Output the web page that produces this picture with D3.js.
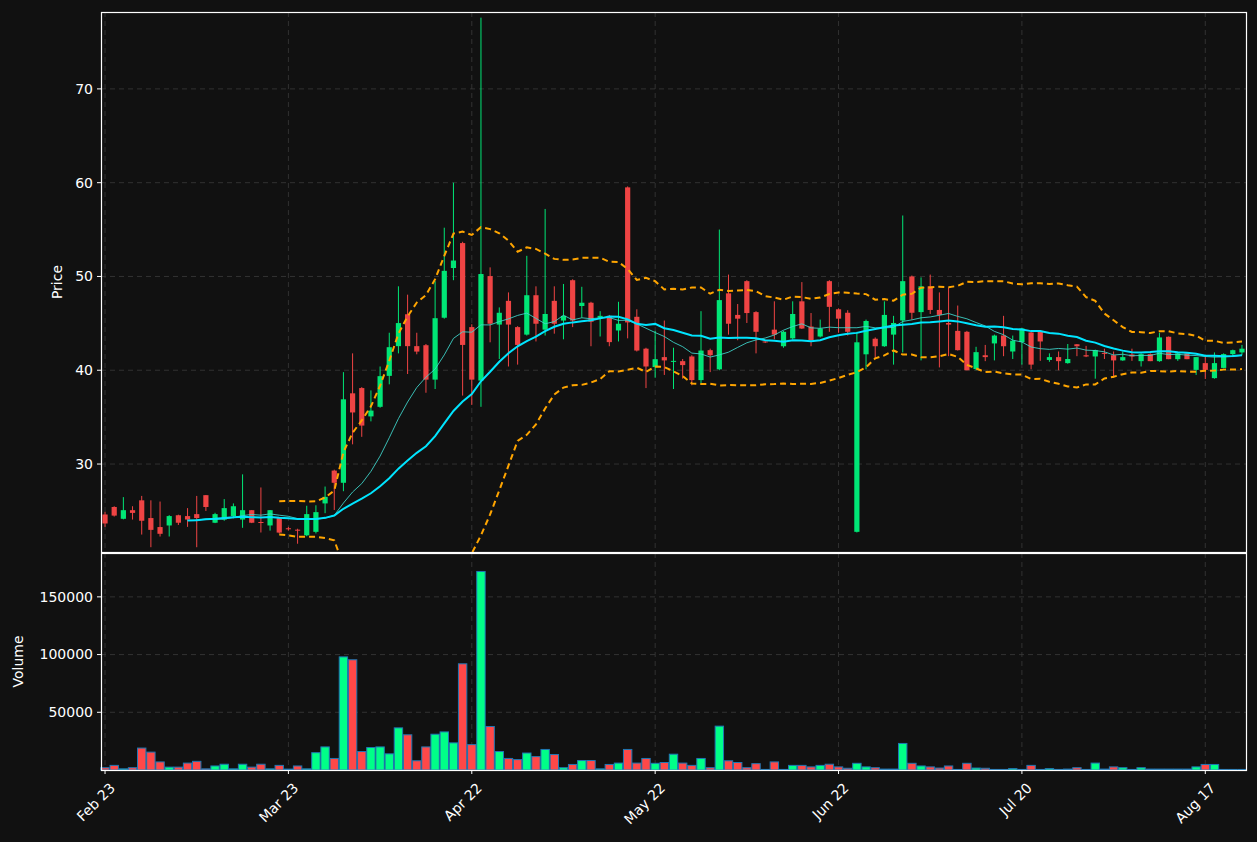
<!DOCTYPE html>
<html><head><meta charset="utf-8">
<script src="https://cdn.jsdelivr.net/npm/d3@7"></script>
<style>body{margin:0;background:#111111;}svg{display:block;font-family:"DejaVu Sans",sans-serif;}</style>
</head><body><svg id="c" width="1257" height="842"></svg>
<script>
const opens=[24.62,25.42,24.16,25.08,26.13,24.24,23.28,23.45,24.54,24.45,24.66,26.68,23.74,24.08,24.45,24.08,25.08,23.82,23.45,24.24,23.15,23.0,22.4,22.77,25.8,29.3,28.0,37.54,38.1,35.08,36.1,39.4,42.57,45.97,42.57,42.67,39.0,45.6,50.9,53.56,44.6,38.9,50.04,44.87,47.4,44.6,43.8,48.0,44.33,47.4,45.3,49.6,46.85,47.2,45.6,45.8,44.24,59.5,45.7,42.3,40.34,41.4,40.9,40.97,41.47,38.95,42.14,40.1,48.2,45.9,49.5,46.2,43.07,44.33,42.56,43.4,47.35,44.66,43.6,49.5,46.5,46.13,22.77,41.7,43.36,42.56,43.8,45.3,50.0,46.2,48.95,46.43,45.04,44.2,44.1,40.13,41.6,42.86,43.7,42.0,43.0,44.03,44.1,41.1,41.4,40.76,42.77,41.6,41.47,41.85,41.6,41.05,41.68,40.97,41.72,40.97,43.57,41.18,41.8,40.04,40.76,39.16,40.25,41.72,41.9];
const highs=[24.9,25.5,26.47,25.5,26.6,26.13,26.0,24.55,24.6,25.3,26.6,26.7,24.8,26.26,25.8,28.9,25.1,27.5,25.1,24.3,23.3,23.1,25.55,25.6,27.6,29.4,39.8,41.8,38.2,37.85,40.4,44.0,48.95,48.06,44.0,42.8,49.5,55.2,60.0,53.7,44.9,77.6,50.97,46.7,48.3,44.7,52.2,48.95,57.2,48.95,49.2,49.7,48.9,47.3,46.3,45.9,47.3,59.6,46.5,42.4,44.2,45.3,42.4,41.2,41.6,46.3,42.3,55.0,50.2,47.06,49.6,46.3,43.1,47.35,44.2,47.35,49.4,46.1,45.4,49.6,46.6,46.4,44.1,45.4,43.5,47.35,45.8,56.5,50.1,49.9,50.2,48.3,48.8,46.9,44.2,42.5,42.7,43.8,45.8,43.7,44.5,44.1,44.2,41.8,42.0,42.8,42.8,42.6,42.2,42.3,42.0,42.0,42.3,41.8,41.8,44.0,43.6,41.9,41.9,41.4,41.47,41.9,41.8,42.2,42.7];
const lows=[23.3,24.4,24.1,24.08,22.48,21.13,22.27,22.27,23.5,23.3,21.13,25.0,23.7,23.95,24.2,23.2,23.7,22.7,22.9,22.6,22.9,21.5,22.3,22.6,24.76,25.1,27.1,32.1,32.9,34.55,36.0,38.5,41.8,39.6,41.7,37.6,38.0,45.5,49.6,37.3,36.3,36.1,42.98,41.2,40.4,40.6,43.7,43.07,43.7,43.9,43.3,44.6,45.6,42.56,43.6,42.56,43.07,43.4,42.0,38.1,39.2,39.5,38.0,39.1,38.4,38.5,39.8,40.0,43.8,43.2,45.04,41.8,42.9,43.3,42.4,43.3,44.4,42.56,43.5,44.1,44.0,43.7,22.7,40.1,41.3,42.5,40.6,41.9,45.4,41.05,46.0,40.3,41.5,42.1,40.0,40.0,40.97,41.05,41.5,41.2,40.6,40.1,41.0,40.9,40.0,40.7,41.5,41.4,39.1,41.2,39.2,41.0,41.0,40.4,40.97,40.9,41.18,41.0,41.18,39.5,39.07,39.1,40.2,41.4,41.6];
const closes=[23.66,24.5,25.08,24.79,23.95,22.98,22.56,24.45,23.74,24.08,24.24,25.42,24.66,25.3,25.5,25.08,23.74,23.74,25.08,22.69,23.05,22.9,24.66,24.87,26.5,28.0,36.9,35.5,34.1,35.7,39.37,42.46,45.03,42.57,41.99,39.0,45.55,50.6,51.7,42.7,39.0,50.26,44.96,46.13,44.87,42.7,48.0,44.96,46.0,44.96,45.8,45.3,47.2,45.17,45.8,43.0,44.96,45.1,42.1,40.4,41.18,41.05,41.0,40.55,38.95,42.1,41.6,47.48,44.96,45.5,46.1,44.1,43.0,43.8,44.1,46.0,44.45,43.2,44.45,46.76,45.5,44.1,42.98,45.25,42.56,45.9,45.04,49.5,46.13,48.95,46.43,45.9,44.87,42.14,40.0,41.93,41.4,43.7,42.56,43.15,44.45,40.6,43.07,41.4,40.97,41.2,42.56,41.47,42.14,41.8,41.05,41.4,41.47,41.72,40.97,43.5,41.18,41.8,41.18,41.4,40.04,40.76,41.72,42.14,42.3];
const volumes=[2000,4000,1000,2000,19000,15500,7000,2500,2500,6000,7500,1000,3500,5000,1000,5000,2500,5000,1000,4000,800,3500,1000,15000,20000,10000,98000,95500,16000,19500,20000,14000,36500,30500,8000,20000,31000,33000,23500,92000,22000,172000,37700,16000,10000,9000,14700,11600,17800,13400,2000,4800,8200,8200,1000,4800,6000,17800,6000,10000,5800,6500,13700,6000,4000,10000,2000,38000,8000,6500,2000,5500,500,7000,500,4000,4000,2700,4000,5000,2700,1500,5800,2700,2000,800,800,23000,5800,3500,2700,1700,3500,500,5800,1700,1500,500,500,1200,500,4000,500,1200,500,800,2000,500,6000,800,2700,2000,500,2000,800,800,800,800,800,2700,4800,4800,500,500,500];
const tickIdx=[0,20,40,60,80,100,120];
const tickLabels=["Feb 23","Mar 23","Apr 22","May 22","Jun 22","Jul 20","Aug 17"];
const priceTicks=[30,40,50,60,70];
const volTicks=[50000,100000,150000];

const W=1257,H=842,L=101,R=1246,PT=12,PB=552,VT=553,VB=770;
const svg=d3.select("#c");
svg.append("rect").attr("width",W).attr("height",H).attr("fill","#111111");
const n=closes.length;
const x=d3.scaleLinear().domain([-0.44,124.44]).range([L,R]);
const y=d3.scaleLinear().domain([20.62,78.2]).range([PB,PT]);
const yv=d3.scaleLinear().domain([0,188000]).range([VB,VT]);
const up="#00e676",dn="#ef4444",vup="#00ff88",vdn="#ff4848";
const isUp=i=>closes[i]>=opens[i];

function grid(g,xs,ys,y0,y1){
  xs.forEach(v=>g.append("line").attr("x1",x(v)).attr("x2",x(v)).attr("y1",y0).attr("y2",y1));
  ys.forEach(v=>g.append("line").attr("x1",L).attr("x2",R).attr("y1",v).attr("y2",v));
  g.attr("stroke","#3a3a3a").attr("stroke-dasharray","5,4").attr("stroke-width",0.8);
}
grid(svg.append("g"),tickIdx,priceTicks.map(y),PT,PB);
grid(svg.append("g"),tickIdx,volTicks.map(yv),VT,VB);

svg.append("clipPath").attr("id","pc").append("rect").attr("x",L).attr("y",PT).attr("width",R-L).attr("height",PB-PT);
const pg=svg.append("g").attr("clip-path","url(#pc)");
const idx=d3.range(n);
pg.selectAll(".w").data(idx).join("line").attr("x1",i=>x(i)).attr("x2",i=>x(i))
  .attr("y1",i=>y(highs[i])).attr("y2",i=>y(lows[i])).attr("stroke",i=>isUp(i)?up:dn).attr("stroke-width",1);
pg.selectAll(".b").data(idx).join("rect").attr("x",i=>x(i)-2.6).attr("width",5.2)
  .attr("y",i=>y(Math.max(opens[i],closes[i])))
  .attr("height",i=>Math.max(1,Math.abs(y(opens[i])-y(closes[i])))).attr("fill",i=>isUp(i)?up:dn);

function sma(p,minP){return idx.map(i=>{const s=closes.slice(Math.max(0,i-p+1),i+1);return s.length>=minP?d3.mean(s):null;});}
const sma10=sma(10,10), sma20=sma(20,10);
const upper=idx.map(i=>{if(i<19)return null;const s=closes.slice(i-19,i+1);return d3.mean(s)+2*d3.deviation(s);});
const lower=idx.map(i=>{if(i<19)return null;const s=closes.slice(i-19,i+1);return d3.mean(s)-2*d3.deviation(s);});
const line=arr=>d3.line().defined(i=>arr[i]!=null).x(i=>x(i)).y(i=>y(arr[i]))(idx);
pg.append("path").attr("d",line(upper)).attr("fill","none").attr("stroke","#ffa500").attr("stroke-width",2).attr("stroke-dasharray","6,4");
pg.append("path").attr("d",line(lower)).attr("fill","none").attr("stroke","#ffa500").attr("stroke-width",2).attr("stroke-dasharray","6,4");
pg.append("path").attr("d",line(sma10)).attr("fill","none").attr("stroke","#3fd9cf").attr("stroke-width",1).attr("opacity",0.85);
pg.append("path").attr("d",line(sma20)).attr("fill","none").attr("stroke","#00e5ff").attr("stroke-width",2);

svg.append("g").selectAll("rect").data(idx).join("rect").attr("x",i=>x(i)-4.2).attr("width",8.4)
  .attr("y",i=>yv(volumes[i])).attr("height",i=>VB-yv(volumes[i]))
  .attr("fill",i=>isUp(i)?vup:vdn).attr("stroke","#1f77b4").attr("stroke-width",1);

[[PT,PB],[VT,VB]].forEach(([a,b])=>svg.append("rect").attr("x",L+0.5).attr("y",a+0.5).attr("width",R-L).attr("height",b-a).attr("fill","none").attr("stroke","#ffffff").attr("stroke-width",1.2));

const ta=svg.append("g").attr("fill","#ffffff").attr("font-size",14);
priceTicks.forEach(v=>{ta.append("line").attr("x1",L-4).attr("x2",L).attr("y1",y(v)).attr("y2",y(v)).attr("stroke","#fff");
  ta.append("text").attr("x",L-8).attr("y",y(v)).attr("dy","0.35em").attr("text-anchor","end").text(v);});
volTicks.forEach(v=>{ta.append("line").attr("x1",L-4).attr("x2",L).attr("y1",yv(v)).attr("y2",yv(v)).attr("stroke","#fff");
  ta.append("text").attr("x",L-8).attr("y",yv(v)).attr("dy","0.35em").attr("text-anchor","end").text(v);});
tickIdx.forEach((v,k)=>{ta.append("line").attr("x1",x(v)).attr("x2",x(v)).attr("y1",VB).attr("y2",VB+4).attr("stroke","#fff");
  ta.append("text").attr("transform",`translate(${x(v)+4},${VB+12}) rotate(-45)`).attr("text-anchor","end").attr("dy","0.7em").text(tickLabels[k]);});
ta.append("text").attr("transform",`translate(62,${(PT+PB)/2}) rotate(-90)`).attr("text-anchor","middle").text("Price");
ta.append("text").attr("transform",`translate(23,${(VT+VB)/2}) rotate(-90)`).attr("text-anchor","middle").text("Volume");
</script></body></html>
